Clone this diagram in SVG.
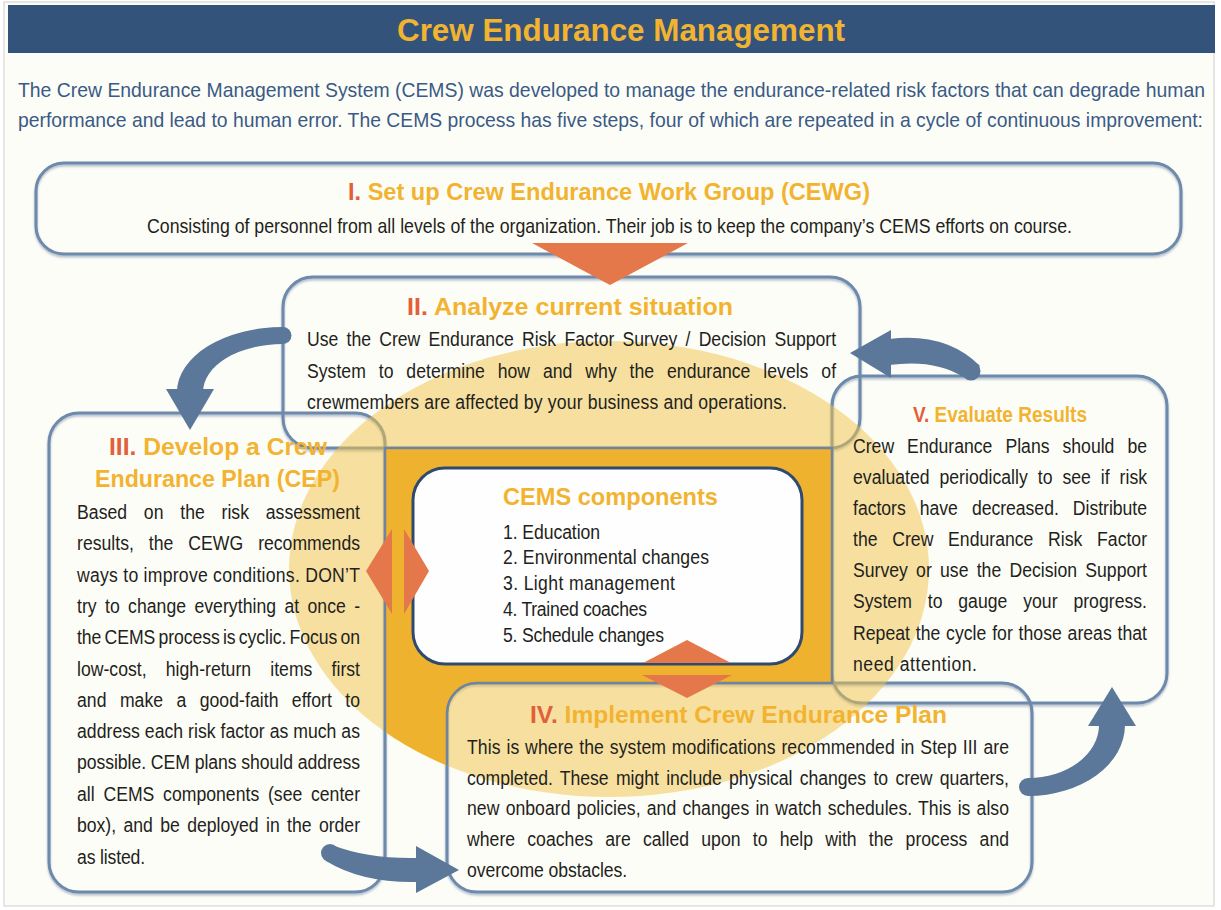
<svg xmlns="http://www.w3.org/2000/svg" width="1221" height="910" viewBox="0 0 1221 910">
  <defs>
    <style>
      .box { fill: none; stroke: #6d89ab; stroke-width: 3; }
      .t { font-family: "Liberation Sans", Arial, sans-serif; }
      .body { font-family: "Liberation Sans", Arial, sans-serif; font-size: 21px; fill: #231f20; }
      .ttl { font-family: "Liberation Sans", Arial, sans-serif; font-weight: bold; fill: #f2b331; }
      .num { fill: #e35f3a; }
      .arrow { fill: #5b7799; }
      .dia { fill: #e4784a; }
    </style>
    <clipPath id="ellClip">
      <ellipse cx="609" cy="569" rx="320" ry="228"/>
    </clipPath>
    <filter id="shadow" x="-5%" y="-5%" width="110%" height="115%">
      <feDropShadow dx="0" dy="2" stdDeviation="1.2" flood-color="#7f93ad" flood-opacity="0.6"/>
    </filter>
  </defs>

  <rect x="0" y="0" width="1221" height="910" fill="#ffffff"/>
  <rect x="4" y="2" width="1210" height="904" fill="#fdfdf7" stroke="#dedede" stroke-width="1.5"/>

  <!-- header -->
  <g id="header">
    <rect x="8" y="5" width="1207" height="48" fill="#33537b"/>
    <text class="ttl" x="397" y="41" font-size="32" textLength="448" lengthAdjust="spacingAndGlyphs">Crew Endurance Management</text>
  </g>

  <g id="intro" class="t" fill="#3a5a86" font-size="21">
    <text x="18" y="97" textLength="1187" lengthAdjust="spacingAndGlyphs">The Crew Endurance Management System (CEMS) was developed to manage the endurance-related risk factors that can degrade human</text>
    <text x="18" y="127" textLength="1185" lengthAdjust="spacingAndGlyphs">performance and lead to human error. The CEMS process has five steps, four of which are repeated in a cycle of continuous improvement:</text>
  </g>

  <!-- box outlines -->
  <g id="box-outlines" filter="url(#shadow)">
    <rect class="box" x="36" y="163" width="1145" height="91" rx="28"/>
    <rect class="box" x="283" y="277" width="577" height="171" rx="30"/>
    <rect class="box" x="49" y="413" width="336" height="479" rx="30"/>
    <rect class="box" x="832" y="376" width="335" height="327" rx="30"/>
    <rect class="box" x="447" y="683" width="585" height="209" rx="30"/>
  </g>

  <!-- big translucent ellipse -->
  <ellipse id="cycle-ellipse" cx="609" cy="569" rx="320" ry="228" fill="#f1c348" fill-opacity="0.5"/>

  <!-- dark orange frame region -->
  <path id="frame" d="M385,448 H832 V683 H477 A30,30 0 0 0 447,713 V905 H385 Z" fill="#efb22e" stroke="#6f84a0" stroke-width="2.5" clip-path="url(#ellClip)"/>

  <!-- center box -->
  <g id="cems-components">
    <rect x="413" y="468" width="389" height="196" rx="32" fill="#fefefe" stroke="#2e4a70" stroke-width="3"/>
    <text class="ttl" x="503" y="505" font-size="24" textLength="215" lengthAdjust="spacingAndGlyphs">CEMS components</text>
    <g transform="scale(0.84,1)">
      <text class="body" x="598.8" y="539" textLength="115.5" lengthAdjust="spacing">1. Education</text>
      <text class="body" x="598.8" y="564" textLength="245.2" lengthAdjust="spacing">2. Environmental changes</text>
      <text class="body" x="598.8" y="590" textLength="204.8" lengthAdjust="spacing">3. Light management</text>
      <text class="body" x="598.8" y="616" textLength="171.4" lengthAdjust="spacing">4. Trained coaches</text>
      <text class="body" x="598.8" y="642" textLength="191.7" lengthAdjust="spacing">5. Schedule changes</text>
    </g>
  </g>

  <!-- connectors -->
  <g id="connectors">
    <polygon class="dia" points="532,243 688,243 610,285"/>
    <polygon class="dia" points="366,571 392,529 392,614"/>
    <polygon class="dia" points="404,529 429,571 404,614"/>
    <polygon class="dia" points="687,640 731,663 643,663"/>
    <polygon class="dia" points="642,675 732,675 687,698"/>

    <!-- II -> III -->
    <path class="arrow" d="M283,327 A106,65 0 0 0 177,392 L203,392 A80,48 0 0 1 283,344 Z"/>
    <circle class="arrow" cx="283" cy="335.5" r="8.5"/>
    <polygon class="arrow" points="166,389 214,389 190,430"/>

    <!-- V -> II -->
    <path class="arrow" d="M889,339 Q946,332 980,366 L963,377 Q935,359 889,365 Z"/>
    <circle class="arrow" cx="971" cy="371" r="9.5"/>
    <polygon class="arrow" points="891,330 891,378 850,353"/>

    <!-- IV -> V -->
    <path class="arrow" d="M1028,796 A97,71 0 0 0 1125,725 L1099,725 A71,53 0 0 1 1028,778 Z"/>
    <circle class="arrow" cx="1028" cy="787" r="9"/>
    <polygon class="arrow" points="1088,726 1136,726 1112,687"/>

    <!-- III -> IV -->
    <path class="arrow" d="M332,845 Q368,859 417,858 L417,882 Q362,883 326,861 Z"/>
    <circle class="arrow" cx="330" cy="853" r="9"/>
    <polygon class="arrow" points="416,846 416,893 459,870"/>
  </g>

  <!-- Step I -->
  <g id="step-I">
    <text class="ttl" x="348" y="200" font-size="23" textLength="522" lengthAdjust="spacingAndGlyphs"><tspan class="num">I.</tspan> Set up Crew Endurance Work Group (CEWG)</text>
    <text class="body" x="147" y="233" font-size="20" textLength="925" lengthAdjust="spacingAndGlyphs">Consisting of personnel from all levels of the organization. Their job is to keep the company’s CEMS efforts on course.</text>
  </g>

  <!-- Step II -->
  <g id="step-II">
    <text class="ttl" x="407" y="315" font-size="23" textLength="326" lengthAdjust="spacingAndGlyphs"><tspan class="num">II.</tspan>  Analyze current situation</text>
    <g transform="scale(0.84,1)">
      <text class="body" x="365.5" y="346" word-spacing="4" textLength="629.8" lengthAdjust="spacing">Use the Crew Endurance Risk Factor Survey / Decision  Support</text>
      <text class="body" x="365.5" y="378" word-spacing="9.5" textLength="629.8" lengthAdjust="spacing">System to determine how and why the endurance levels of</text>
      <text class="body" x="365.5" y="409" textLength="571.4" lengthAdjust="spacing">crewmembers are affected by your business and operations.</text>
    </g>
  </g>

  <!-- Step III -->
  <g id="step-III">
    <text class="ttl" x="109" y="455" font-size="24" textLength="218" lengthAdjust="spacingAndGlyphs"><tspan class="num">III.</tspan>  Develop a Crew</text>
    <text class="ttl" x="95" y="487" font-size="24" textLength="245" lengthAdjust="spacingAndGlyphs">Endurance Plan (CEP)</text>
    <g transform="scale(0.84,1)">
      <text class="body" x="91.7" y="519" word-spacing="14" textLength="336.9" lengthAdjust="spacing">Based on the risk assessment</text>
      <text class="body" x="91.7" y="550" word-spacing="12" textLength="336.9" lengthAdjust="spacing">results, the CEWG recommends</text>
      <text class="body" x="91.7" y="582" textLength="336.9" lengthAdjust="spacing">ways to improve conditions. DON’T</text>
      <text class="body" x="91.7" y="613" word-spacing="4" textLength="336.9" lengthAdjust="spacing">try to change everything at once -</text>
      <text class="body" x="91.7" y="644" word-spacing="-2" textLength="336.9" lengthAdjust="spacing">the CEMS process is cyclic. Focus on</text>
      <text class="body" x="91.7" y="676" word-spacing="17" textLength="336.9" lengthAdjust="spacing">low-cost, high-return items first</text>
      <text class="body" x="91.7" y="707" word-spacing="10" textLength="336.9" lengthAdjust="spacing">and make a good-faith effort to</text>
      <text class="body" x="91.7" y="738" textLength="336.9" lengthAdjust="spacing">address each risk factor as much as</text>
      <text class="body" x="91.7" y="769" textLength="336.9" lengthAdjust="spacing">possible. CEM plans should address</text>
      <text class="body" x="91.7" y="801" word-spacing="4.5" textLength="336.9" lengthAdjust="spacing">all CEMS components (see center</text>
      <text class="body" x="91.7" y="832" word-spacing="3" textLength="336.9" lengthAdjust="spacing">box), and be deployed in the order</text>
      <text class="body" x="91.7" y="864" textLength="81" lengthAdjust="spacing">as listed.</text>
    </g>
  </g>

  <!-- Step IV -->
  <g id="step-IV">
    <text class="ttl" x="530" y="723" font-size="23" textLength="417" lengthAdjust="spacingAndGlyphs"><tspan class="num">IV.</tspan>  Implement Crew Endurance Plan</text>
    <g transform="scale(0.84,1)">
      <text class="body" x="556" y="754" word-spacing="1" textLength="645.2" lengthAdjust="spacing">This is where the system modifications recommended in Step III are</text>
      <text class="body" x="556" y="785" word-spacing="3" textLength="645.2" lengthAdjust="spacing">completed. These might include physical changes to crew quarters,</text>
      <text class="body" x="556" y="815" word-spacing="1.5" textLength="645.2" lengthAdjust="spacing">new onboard policies, and changes in watch schedules. This is also</text>
      <text class="body" x="556" y="846" word-spacing="8.7" textLength="645.2" lengthAdjust="spacing">where coaches are called upon to help with the process and</text>
      <text class="body" x="556" y="877" textLength="190.5" lengthAdjust="spacing">overcome obstacles.</text>
    </g>
  </g>

  <!-- Step V -->
  <g id="step-V">
    <text class="ttl" x="913" y="422" font-size="22" textLength="174" lengthAdjust="spacingAndGlyphs"><tspan class="num">V.</tspan>  Evaluate Results</text>
    <g transform="scale(0.84,1)">
      <text class="body" x="1015.5" y="453" word-spacing="9.6" textLength="350" lengthAdjust="spacing">Crew Endurance Plans should be</text>
      <text class="body" x="1015.5" y="484" word-spacing="6" textLength="350" lengthAdjust="spacing">evaluated periodically to see if risk</text>
      <text class="body" x="1015.5" y="515" word-spacing="11" textLength="350" lengthAdjust="spacing">factors have decreased. Distribute</text>
      <text class="body" x="1015.5" y="546" word-spacing="11.7" textLength="350" lengthAdjust="spacing">the Crew Endurance Risk Factor</text>
      <text class="body" x="1015.5" y="577" word-spacing="4" textLength="350" lengthAdjust="spacing">Survey or use the Decision Support</text>
      <text class="body" x="1015.5" y="608" word-spacing="13" textLength="350" lengthAdjust="spacing">System to gauge your progress.</text>
      <text class="body" x="1015.5" y="640" word-spacing="1" textLength="350" lengthAdjust="spacing">Repeat the cycle for those areas that</text>
      <text class="body" x="1015.5" y="671" textLength="147.6" lengthAdjust="spacing">need attention.</text>
    </g>
  </g>
</svg>
